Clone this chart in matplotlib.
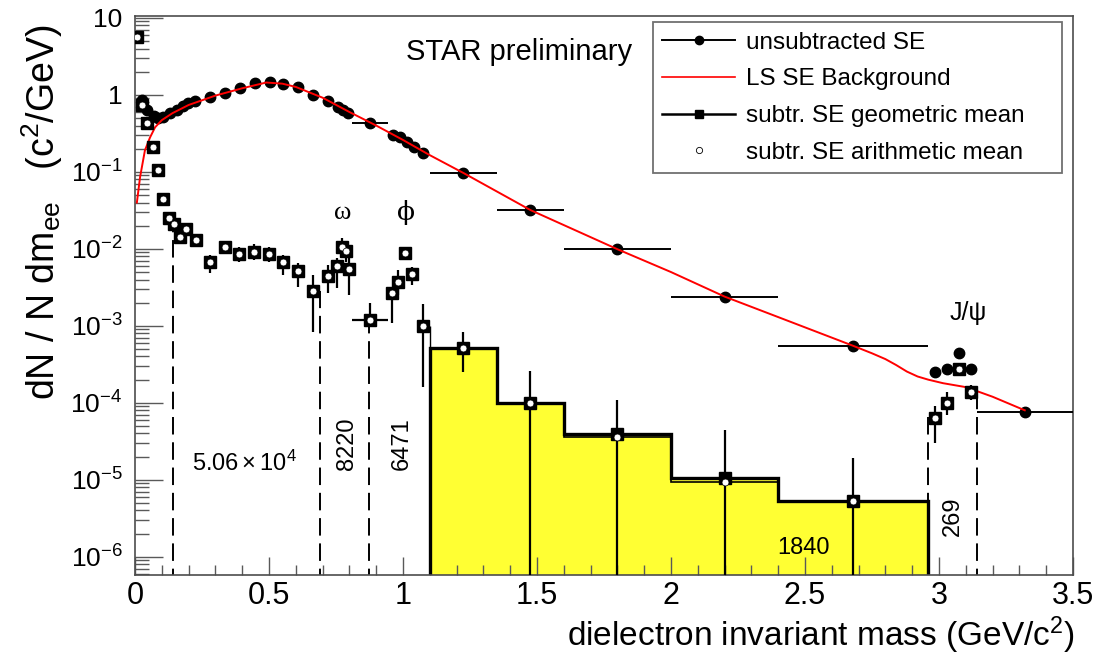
import numpy as np
import matplotlib.pyplot as plt
import matplotlib.ticker as mticker
from matplotlib.lines import Line2D

plt.rcParams['font.family'] = ['Liberation Sans', 'DejaVu Sans']
plt.rcParams['mathtext.fontset'] = 'custom'
plt.rcParams['mathtext.rm'] = 'Liberation Sans'
plt.rcParams['mathtext.it'] = 'Liberation Sans:italic'

# unsubtracted same-event spectrum
unsub_m = [0.025, 0.045, 0.07, 0.085, 0.104, 0.131, 0.157, 0.179, 0.198, 0.224,
           0.28, 0.336, 0.39, 0.446, 0.504, 0.552, 0.608, 0.664, 0.72, 0.757,
           0.777, 0.795, 0.877, 0.962, 0.99, 1.015, 1.04, 1.075, 1.225, 1.475,
           1.80, 2.20, 2.68, 2.985, 3.03, 3.075, 3.12, 3.32]
unsub_y = [0.86, 0.64, 0.53, 0.50, 0.52, 0.58, 0.64, 0.72, 0.79, 0.84,
           0.95, 1.07, 1.22, 1.42, 1.46, 1.39, 1.27, 1.0, 0.84, 0.70,
           0.64, 0.58, 0.43, 0.30, 0.28, 0.245, 0.21, 0.177, 0.097, 0.032,
           0.010, 0.0024, 5.5e-4, 2.5e-4, 2.75e-4, 4.5e-4, 2.75e-4, 7.7e-5]
unsub_dm = [0]*22 + [0.068] + [0]*5 + [0.125, 0.125, 0.2, 0.2, 0.28] + [0]*4 + [0.18]

# like-sign same-event background
bg_m = [0.007, 0.019, 0.037, 0.056, 0.075, 0.10, 0.14, 0.2, 0.3, 0.4, 0.49, 0.55,
        0.6, 0.7, 0.8, 0.9, 1.0, 1.1, 1.225, 1.475, 1.8, 2.0, 2.2, 2.4, 2.68,
        2.75, 2.80, 2.84, 2.88, 2.92, 2.96, 3.015, 3.1, 3.2, 3.32]
bg_y = [0.04, 0.086, 0.19, 0.28, 0.38, 0.47, 0.58, 0.74, 0.98, 1.22, 1.45, 1.40,
        1.27, 0.92, 0.60, 0.40, 0.26, 0.165, 0.097, 0.032, 0.0099, 0.0050, 0.0024,
        0.0013, 5.5e-4, 4.4e-4, 3.7e-4, 3.1e-4, 2.55e-4, 2.2e-4, 2.0e-4, 1.8e-4,
        1.6e-4, 1.2e-4, 8e-5]

# background-subtracted spectrum (geometric / arithmetic mean)
sub_m = [0.007, 0.025, 0.045, 0.068, 0.087, 0.105, 0.126, 0.146, 0.168, 0.19,
         0.228, 0.28, 0.336, 0.388, 0.444, 0.50, 0.553, 0.608, 0.664, 0.72,
         0.754, 0.772, 0.787, 0.80, 0.877, 0.96, 0.98, 1.007, 1.033, 1.074,
         1.225, 1.475, 1.80, 2.20, 2.68, 2.985, 3.03, 3.075, 3.12]
geo_y = [5.6, 0.74, 0.43, 0.21, 0.106, 0.044, 0.025, 0.021, 0.0143, 0.018,
         0.013, 0.0068, 0.0106, 0.0086, 0.0092, 0.0086, 0.0068, 0.0052, 0.0028, 0.0044,
         0.006, 0.0107, 0.0094, 0.0055, 1.2e-3, 0.0027, 0.0037, 0.0089, 0.0047, 1.0e-3,
         5.1e-4, 1.0e-4, 3.9e-5, 1.05e-5, 5.3e-6, 6.3e-5, 1.0e-4, 2.75e-4, 1.37e-4]
arith_y = [5.6, 0.74, 0.43, 0.21, 0.106, 0.044, 0.025, 0.021, 0.0143, 0.018,
           0.013, 0.0068, 0.0106, 0.0086, 0.0092, 0.0086, 0.0068, 0.0052, 0.0028, 0.0044,
           0.006, 0.0107, 0.0094, 0.0055, 1.2e-3, 0.0027, 0.0037, 0.0089, 0.0047, 1.0e-3,
           5.1e-4, 1.0e-4, 3.6e-5, 9.3e-6, 5.3e-6, 6.3e-5, 1.0e-4, 2.75e-4, 1.37e-4]
sub_lo = [5.6, 0.74, 0.43, 0.21, 0.106, 0.044, 0.023, 0.019, 0.0119, 0.016,
          0.011, 0.0049, 0.009, 0.0068, 0.0072, 0.0068, 0.0046, 0.0032, 8.4e-4, 0.0027,
          0.0031, 0.0077, 0.0068, 0.0025, 1.2e-3, 1.1e-3, 0.0025, 0.0080, 0.0034, 1.6e-4,
          2.5e-4, 1e-9, 1e-9, 1e-9, 1e-9, 3.0e-5, 7e-5, 2.5e-4, 1.1e-4]
sub_hi = [5.6, 0.74, 0.43, 0.21, 0.106, 0.044, 0.027, 0.023, 0.0166, 0.020,
          0.015, 0.0083, 0.0125, 0.0105, 0.0115, 0.0105, 0.0084, 0.0066, 0.0046, 0.0062,
          0.0077, 0.0139, 0.0107, 0.0079, 2.0e-3, 0.0030, 0.0053, 0.0098, 0.0058, 1.9e-3,
          8.2e-4, 2.6e-4, 1.1e-4, 4.5e-5, 1.9e-5, 9.0e-5, 1.37e-4, 3.0e-4, 1.7e-4]
sub_dm = [0]*8 + [0.02]*16 + [0.068] + [0]*14

# intermediate-mass histogram
hist_edges = [1.1, 1.35, 1.6, 2.0, 2.4, 2.96]
hist_geo = [5.1e-4, 1.0e-4, 3.9e-5, 1.05e-5, 5.3e-6]
hist_arith = [5.1e-4, 1.0e-4, 3.6e-5, 9.3e-6, 5.3e-6]

# integration windows and yields
win_x = [0.14, 0.69, 0.875, 2.96, 3.14]
win_top = [0.017, 0.0028, 0.0012, 6.5e-5, 1.4e-4]
yield_txt = ['$5.06\\times10^{4}$', '8220', '6471', '1840', '269']
yield_pos = [(0.41, 1.66e-5, 0), (0.791, 2.95e-5, 90), (0.996, 2.95e-5, 90),
             (2.493, 1.3e-6, 0), (3.052, 3.4e-6, 90)]

fig = plt.figure(figsize=(10.94, 6.61), dpi=100)
ax = fig.add_axes([0.1234, 0.1301, 0.8574, 0.8457])
ax.set_yscale('log')
ax.set_xlim(0, 3.5)
ax.set_ylim(5.8e-7, 10.6)

floor = 1e-9
ax.stairs(hist_geo, hist_edges, baseline=floor, fill=True, color='#ffff33', zorder=1)
ax.stairs(hist_geo, hist_edges, baseline=floor, color='black', lw=2.4, zorder=2)
ax.stairs(hist_arith, hist_edges, baseline=None, color='black', lw=1.2, zorder=2)
ax.vlines(1.1, floor, 1.0e-3, color='black', lw=1.0, zorder=2)

ax.vlines(win_x, floor, win_top, colors='black', lw=1.4,
          linestyles=(0, (9, 4)), zorder=2)

# unsubtracted
ax.errorbar(unsub_m, unsub_y, xerr=unsub_dm, fmt='o', color='black', ms=7.5,
            elinewidth=1.4, capsize=0, zorder=4)
# background
ax.plot(bg_m, bg_y, color='red', lw=1.4, zorder=5)

# subtracted
geo = np.array(geo_y)
yerr = [geo - np.array(sub_lo), np.array(sub_hi) - geo]
ax.errorbar(sub_m, geo_y, yerr=yerr, xerr=sub_dm, fmt='s', color='black', ms=8.5,
            elinewidth=1.6, capsize=0, zorder=6)
ax.plot(sub_m, arith_y, 'o', mfc='white', mec='black', mew=0.5, ms=5, zorder=7)

# axes styling
for side in ['top', 'right', 'left', 'bottom']:
    ax.spines[side].set_color('0.3')
    ax.spines[side].set_linewidth(1.2)
ax.xaxis.set_major_locator(mticker.MultipleLocator(0.5))
ax.xaxis.set_minor_locator(mticker.MultipleLocator(0.1))
ax.xaxis.set_major_formatter(mticker.FuncFormatter(lambda v, p: f'{v:g}'))
yt = [1e-6, 1e-5, 1e-4, 1e-3, 1e-2, 1e-1, 1, 10]
ax.set_yticks(yt)
ax.set_yticklabels(['$10^{-6}$', '$10^{-5}$', '$10^{-4}$', '$10^{-3}$', '$10^{-2}$',
                    '$10^{-1}$', '1', '10'])
ax.yaxis.set_minor_locator(mticker.LogLocator(base=10, subs=np.arange(2, 10), numticks=20))
ax.yaxis.set_minor_formatter(mticker.NullFormatter())
ax.tick_params(axis='both', which='both', direction='in', color='0.35', width=1.0)
ax.tick_params(axis='y', which='major', length=20, labelsize=19, pad=9)
ax.tick_params(axis='y', which='minor', length=10)
ax.tick_params(axis='x', which='major', length=13, labelsize=22, pad=4)
ax.tick_params(axis='x', which='minor', length=7)

# labels
ax.text(1.433, 3.62, 'STAR preliminary', fontsize=21, ha='center', va='center')
ax.text(0.776, 0.0294, 'ω', fontsize=19, ha='center', va='center',
        family=['Liberation Serif', 'DejaVu Serif'])
ax.text(1.011, 0.0294, 'ϕ', fontsize=19, ha='center', va='center',
        family=['DejaVu Serif'])
ax.text(3.108, 1.47e-3, 'J/ψ', fontsize=18, ha='center', va='center')
for txt, (xx, yy, rot) in zip(yield_txt, yield_pos):
    ax.text(xx, yy, txt, fontsize=17, ha='center', va='center', rotation=rot)

fig.text(42 / 1094, 1 - 212 / 661, 'dN / N dm$_{\\mathrm{ee}}$   (c$^{2}$/GeV)',
         rotation=90, fontsize=27, ha='center', va='center')
fig.text(1075 / 1094, 1 - 635 / 661, 'dielectron invariant mass (GeV/c$^{2}$)',
         fontsize=24, ha='right', va='center')

handles = [
    Line2D([], [], color='black', lw=1.4, marker='o', ms=6),
    Line2D([], [], color='red', lw=1.2),
    Line2D([], [], color='black', lw=1.8, marker='s', ms=6),
    Line2D([], [], ls='none', marker='o', mfc='white', mec='black', mew=0.6, ms=4.5),
]
labels = ['unsubtracted SE', 'LS SE Background', 'subtr. SE geometric mean',
          'subtr. SE arithmetic mean']
leg = ax.legend(handles, labels, loc='upper left',
                bbox_to_anchor=(0.552, 0.719, 0.436, 0.27), mode='expand',
                fontsize=17.5, frameon=True, fancybox=False, handlelength=3.0,
                handletextpad=0.45, labelspacing=0.6, borderpad=0.4,
                borderaxespad=0)
leg.get_frame().set_edgecolor('0.3')
leg.get_frame().set_linewidth(1.3)

fig.savefig('out.png', dpi=100)
